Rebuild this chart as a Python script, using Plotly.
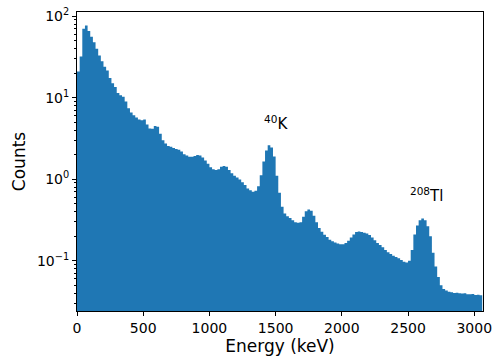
import math
import plotly.graph_objects as go

bin_width = 20
bin_centers = list(range(10, 3060, 20))
counts = [
    21, 32, 70, 77, 66, 56, 48, 40, 33, 28,
    24, 21.5, 17.5, 15, 13.5, 11.4, 10.7, 10.3, 9.0, 7.4,
    6.6, 6.1, 5.7, 5.4, 5.3, 5.4, 4.7, 4.2, 4.15, 4.5,
    4.4, 3.6, 3.0, 2.75, 2.55, 2.5, 2.42, 2.34, 2.3, 2.18,
    2.03, 1.95, 1.89, 1.88, 1.93, 1.98, 1.95, 1.85, 1.7, 1.55,
    1.40, 1.32, 1.30, 1.32, 1.42, 1.45, 1.42, 1.30, 1.18, 1.10,
    1.05, 0.99, 0.92, 0.85, 0.77, 0.73, 0.70, 0.72, 0.82, 1.12,
    1.65, 2.25, 2.6, 2.45, 1.9, 1.1, 0.68, 0.46, 0.38, 0.35,
    0.333, 0.313, 0.297, 0.292, 0.297, 0.345, 0.405, 0.425, 0.41, 0.355,
    0.295, 0.252, 0.227, 0.208, 0.195, 0.181, 0.173, 0.167, 0.162, 0.159,
    0.159, 0.165, 0.175, 0.193, 0.21, 0.225, 0.228, 0.224, 0.22, 0.215,
    0.207, 0.193, 0.178, 0.165, 0.156, 0.146, 0.135, 0.127, 0.121, 0.115,
    0.111, 0.107, 0.102, 0.097, 0.095, 0.1, 0.135, 0.21, 0.27, 0.313,
    0.328, 0.313, 0.265, 0.2, 0.125, 0.085, 0.063, 0.05, 0.045, 0.043,
    0.0415, 0.0408, 0.0402, 0.0405, 0.0397, 0.0394, 0.0399, 0.0388, 0.0386, 0.0391,
    0.038, 0.0382, 0.0376,
]

x_ticks = [0, 500, 1000, 1500, 2000, 2500, 3000]
y_ticks = [0.1, 1, 10, 100]
y_tick_text = ["10<sup>−1</sup>", "10<sup>0</sup>", "10<sup>1</sup>", "10<sup>2</sup>"]
y_minor = [m * 10 ** e for e in (-2, -1, 0, 1) for m in range(2, 10)]

peak_labels = ["<sup>40</sup>K", "<sup>208</sup>Tl"]
peak_x = [1500, 2640]
peak_y = [4.9, 0.64]

# step outline from the histogram bins (left edges + final right edge)
edges = [c - bin_width / 2 for c in bin_centers] + [bin_centers[-1] + bin_width / 2]
step_y = counts + [counts[-1]]
floor = 1e-3  # below the visible axis range, closes the filled area

fig = go.Figure()
fig.add_trace(go.Scatter(
    x=[edges[0]] + edges + [edges[-1]],
    y=[floor] + step_y + [floor],
    mode="lines", line=dict(shape="hv", width=0, color="#1f77b4"),
    fill="toself", fillcolor="#1f77b4", hoverinfo="skip",
))

for t, x, y in zip(peak_labels, peak_x, peak_y):
    fig.add_annotation(x=x, y=math.log10(y), yref="y", xref="x", text=t, showarrow=False,
                       font=dict(size=15, color="black"))

fig.update_layout(
    width=498, height=362,
    margin=dict(l=77, r=12, t=6, b=51),
    paper_bgcolor="white", plot_bgcolor="white",
    showlegend=False,
    font=dict(family="DejaVu Sans", color="black"),
)
fig.update_xaxes(
    range=[0, 3066], tickvals=x_ticks, ticks="outside", ticklen=4, tickwidth=1,
    tickcolor="black", showgrid=False, zeroline=False,
    showline=True, linecolor="black", linewidth=1, mirror=True,
    tickfont=dict(size=14), title=dict(text="Energy (keV)", font=dict(size=17), standoff=4),
)
fig.update_yaxes(
    type="log", range=[-1.618, 2.052], tickvals=y_ticks, ticktext=y_tick_text,
    ticks="outside", ticklen=4, tickwidth=1, tickcolor="black",
    minor=dict(tickvals=y_minor, ticks="outside", ticklen=2, tickcolor="black"),
    showgrid=False, zeroline=False,
    showline=True, linecolor="black", linewidth=1, mirror=True,
    tickfont=dict(size=14), title=dict(text="Counts", font=dict(size=17), standoff=6),
)

fig.write_html("out.html", config={"displayModeBar": False},
               post_script="document.body.style.margin='0';")
